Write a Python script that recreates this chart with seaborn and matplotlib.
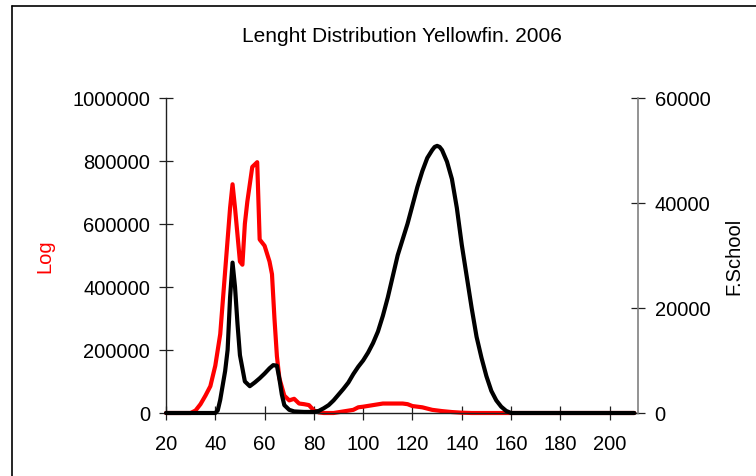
import numpy as np
import pandas as pd
import matplotlib
matplotlib.use("Agg")
import matplotlib.pyplot as plt
from matplotlib.lines import Line2D
import seaborn as sns

# Log (left axis)
log_len = [20, 30, 32, 34, 36, 38, 40, 42, 44, 46, 47, 48, 50, 51, 52, 53, 55, 57,
           58, 60, 62, 63, 64, 65, 66, 68, 70, 72, 74, 76, 78, 80, 82, 84, 88, 92,
           96, 98, 100, 104, 108, 112, 116, 118, 120, 124, 128, 132, 136, 140, 144, 210]
log_val = [0, 0, 8000, 28000, 55000, 85000, 150000, 250000, 450000, 650000, 725000,
           650000, 480000, 470000, 600000, 670000, 780000, 795000, 550000, 530000,
           480000, 440000, 300000, 180000, 110000, 55000, 40000, 45000, 30000, 28000,
           25000, 8000, 2000, 0, 0, 5000, 10000, 18000, 20000, 25000, 30000, 30000,
           30000, 28000, 22000, 18000, 10000, 6000, 3000, 1000, 0, 0]

# F.School (right axis)
fs_len = [20, 40, 41, 42, 44, 45, 46, 47, 48, 49, 50, 52, 54, 56, 58, 60, 62, 63.5,
          65, 66, 67, 68, 70, 72, 76, 80, 82, 84, 86, 88, 90, 92, 94, 96, 98, 100,
          102, 104, 106, 108, 110, 112, 114, 116, 118, 120, 122, 124, 126, 128, 129,
          130, 131, 132, 134, 136, 138, 140, 142, 144, 146, 148, 150, 152, 154, 156,
          158, 160, 210]
fs_val = [0, 0, 500, 2500, 8000, 12000, 22000, 28600, 24000, 17000, 11000, 6000,
          5100, 5800, 6600, 7500, 8500, 9100, 9000, 6500, 3500, 1500, 600, 300, 200,
          200, 400, 900, 1500, 2400, 3500, 4600, 5800, 7400, 8800, 10000, 11500,
          13300, 15500, 18500, 22000, 26000, 30000, 33000, 36000, 39500, 43000,
          46000, 48500, 50000, 50600, 50800, 50600, 50000, 47800, 44500, 39000,
          32000, 26000, 20000, 14500, 10500, 7000, 4200, 2400, 1200, 400, 0, 0]

x_ticks = [20, 40, 60, 80, 100, 120, 140, 160, 180, 200]
left_ticks = [0, 200000, 400000, 600000, 800000, 1000000]
right_ticks = [0, 20000, 40000, 60000]

sns.set_theme(style="white")
plt.rcParams["font.family"] = ["Liberation Sans", "DejaVu Sans"]
plt.rcParams["text.color"] = "black"
plt.rcParams["axes.labelcolor"] = "black"

fs = 14.5

fig = plt.figure(figsize=(7.56, 4.77), dpi=100)
ax = fig.add_axes([166 / 756, 1 - 414 / 477, (638 - 166) / 756, (414 - 98.5) / 477])
ax2 = ax.twinx()

log_df = pd.DataFrame({"length": log_len, "value": log_val})
fs_df = pd.DataFrame({"length": fs_len, "value": fs_val})

sns.lineplot(data=log_df, x="length", y="value", ax=ax, color="#ff0000",
             linewidth=3, clip_on=False)
sns.lineplot(data=fs_df, x="length", y="value", ax=ax2, color="black",
             linewidth=3, clip_on=False)

ax.set_xlim(20, 211.5)
ax.set_ylim(0, 1000000)
ax2.set_ylim(0, 60000)
ax.set_xticks(x_ticks)
ax.set_xticklabels([str(t) for t in x_ticks])
ax.set_yticks(left_ticks)
ax.set_yticklabels([str(t) for t in left_ticks])
ax2.set_yticks(right_ticks)
ax2.set_yticklabels([str(t) for t in right_ticks])

for a in (ax, ax2):
    a.spines["top"].set_visible(False)
    a.set_xlabel("")
ax.spines["right"].set_visible(False)
ax2.spines["left"].set_visible(False)
ax2.spines["bottom"].set_visible(False)
ax.spines["left"].set_color("#202020")
ax.spines["bottom"].set_color("#202020")
ax2.spines["right"].set_color("#808080")
for s in ("left", "bottom"):
    ax.spines[s].set_linewidth(1)
ax2.spines["right"].set_linewidth(1.2)

ax.tick_params(axis="both", direction="inout", length=10, width=0.9,
               color="#202020", labelsize=fs, labelcolor="black")
ax.tick_params(axis="y", left=True, pad=6.5)
ax.tick_params(axis="x", bottom=True, pad=10)
ax2.tick_params(axis="y", direction="inout", length=10, width=0.9,
                color="#202020", labelsize=fs, labelcolor="black", right=True, pad=7)

ax.set_ylabel("Log", color="#ff0000", fontsize=fs, labelpad=13)
ax2.set_ylabel("F.School", color="black", fontsize=fs, labelpad=10)
ax.set_title("Lenght Distribution Yellowfin. 2006", fontsize=15, pad=41, color="black")

# chart frame (left and top edges)
fig.add_artist(Line2D([12 / 756, 12 / 756], [0, 1 - 7 / 477], color="black", lw=1.2))
fig.add_artist(Line2D([12 / 756, 1], [1 - 7 / 477, 1 - 7 / 477], color="black", lw=1.2))

fig.savefig("out.png", dpi=100)
